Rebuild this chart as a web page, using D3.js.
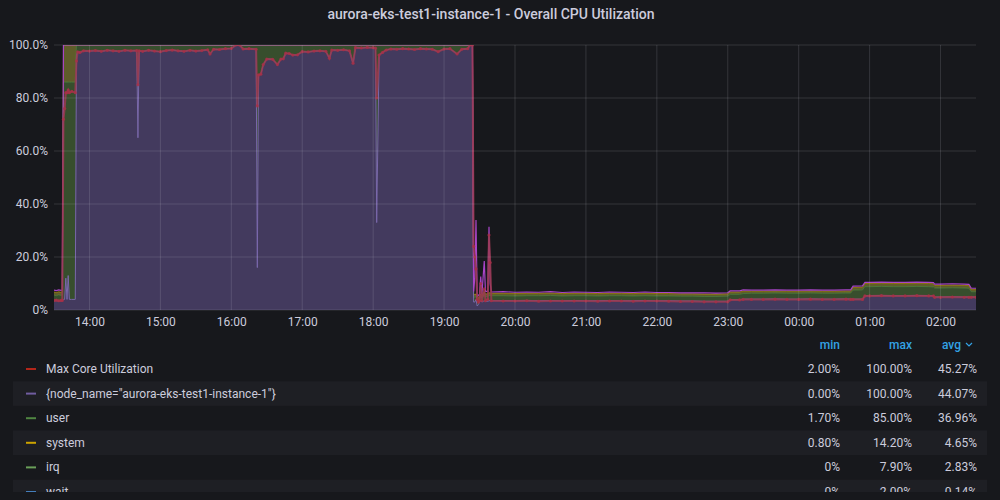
<!DOCTYPE html>
<html><head><meta charset="utf-8">
<script src="https://cdn.jsdelivr.net/npm/d3@7"></script>
<style>
html,body{margin:0;padding:0;background:#17181c;overflow:hidden;}
svg{display:block;font-family:Roboto,"Noto Sans",sans-serif;}
</style></head><body>
<svg id="c" width="1000" height="500"></svg>
<script>
// ---- data ----
const times = [
 "13:30","13:32","13:34","13:36","13:37","13:38","13:39","13:40","13:41","13:42","13:43","13:45","13:48","13:49",
 "13:50","13:52","13:55","14:00","14:05","14:10","14:15","14:20","14:25","14:30","14:35","14:40","14:41","14:42",
 "14:45","14:50","14:55","15:00","15:05","15:10","15:15","15:20","15:25","15:30","15:35","15:40","15:42","15:45",
 "15:50","15:55","16:00","16:04","16:07","16:10","16:15","16:21","16:22","16:23","16:25","16:27","16:30","16:35",
 "16:39","16:42","16:44","16:46","16:49","16:52","16:56","17:00","17:05","17:10","17:15","17:20","17:23","17:25",
 "17:30","17:35","17:40","17:43","17:45","17:50","17:55","18:00","18:02","18:03","18:05","18:08","18:11","18:15",
 "18:20","18:25","18:30","18:35","18:40","18:45","18:50","18:55","19:00","19:05","19:11","19:15","19:20","19:22",
 "19:24","19:25","19:26","19:27","19:28","19:29","19:30","19:31","19:32","19:34","19:35","19:37","19:38","19:39",
 "19:40","19:50","20:00","20:10","20:20","20:30","20:40","20:50","21:00","21:10","21:20","21:30","21:40","21:50",
 "22:00","22:10","22:20","22:30","22:40","22:50","23:00","23:02","23:10","23:13","23:20","23:30","23:40","23:50",
 "00:00","00:10","00:20","00:30","00:40","00:44","00:46","00:54","00:56","01:00","01:10","01:20","01:30","01:40",
 "01:50","01:54","01:55","02:00","02:10","02:20","02:24","02:26","02:30"
];
// {node_name=...} (purple area)
const nodeName = [
 3.5,3.6,3.4,3.5,3.6,4.0,4.0,12,4.0,13,4.0,4.0,4.0,96,
 97.4,97.2,97.8,97.7,97.9,97.6,98.0,97.8,97.6,98.0,97.8,97.9,65,97.8,
 97.6,98.0,97.7,97.5,97.9,98.1,97.8,97.6,98.0,97.7,97.9,98.2,96.6,98.4,
 98.3,98.6,98.7,100,100,98.5,98.6,98.4,16,88.7,89.0,92.6,94.7,94.6,
 92.6,94.7,94.8,96.9,96.8,96.2,96.3,97.5,97.4,97.7,97.8,97.6,95.0,98.1,
 98.0,98.2,97.8,93.1,99.0,98.9,99.1,99.0,98.8,33,96.2,97.2,98.1,98.5,
 98.4,98.6,98.5,98.3,98.6,98.5,98.4,97.5,98.5,98.6,96.6,98.4,98.6,100,
 100,3,3,4,1.5,2,3,3.5,3,3.5,3.2,3.3,3.5,3.5,
 3.5,3.6,3.5,3.6,3.5,3.6,3.5,3.6,3.5,3.5,3.6,3.5,3.5,3.6,
 3.5,3.5,3.4,3.4,3.3,3.3,3.3,3.9,3.9,4.1,4.1,4.1,4.2,4.1,
 4.1,4.2,4.1,4.1,4.2,4.1,4.1,4.1,5.4,5.4,5.5,5.4,5.4,5.5,
 5.4,5.4,4.9,4.9,5.0,4.9,4.9,4.9,4.9
];
// Max Core Utilization (red line)
const maxCore = [
 3.6,3.7,3.5,3.6,3.6,72,76,82,82,83,82,82.5,82,94,
 97.4,97.2,97.8,97.7,97.9,97.6,98.0,97.8,97.6,98.0,97.8,97.9,85,97.8,
 97.6,98.0,97.7,97.5,97.9,98.1,97.8,97.6,98.0,97.7,97.9,98.2,96.6,98.4,
 98.3,98.6,98.7,100,100,98.5,98.6,98.4,77,88.7,89.0,92.6,94.7,94.6,
 92.6,94.7,94.8,96.9,96.8,96.2,96.3,97.5,97.4,97.7,97.8,97.6,95.0,98.1,
 98.0,98.2,97.8,93.1,99.0,98.9,99.1,99.0,98.8,80,96.2,97.2,98.1,98.5,
 98.4,98.6,98.5,98.3,98.6,98.5,98.4,97.5,98.5,98.6,96.6,98.4,98.6,100,
 100,24,20,15.5,4,3,3.5,10,3.5,8,3.5,4,28.3,17.9,
 3.5,3.4,3.4,3.5,3.3,3.4,3.4,3.4,3.4,3.3,3.4,3.4,3.3,3.4,
 3.4,3.3,3.2,3.2,3.1,3.1,3.1,3.8,3.8,4.0,4.0,4.0,4.1,4.0,
 4.0,4.1,4.0,4.0,4.1,4.0,4.0,4.0,5.3,5.3,5.4,5.3,5.3,5.4,
 5.3,5.3,4.8,4.8,4.9,4.8,4.8,4.8,4.8
];
// user (green band top)
const userTop = [
 5.6,5.4,5.7,5.5,5.6,86,86,86,86,86,86,86,86,100,
 100,100,100,100,100,100,100,100,100,100,100,100,100,100,
 100,100,100,100,100,100,100,100,100,100,100,100,100,100,
 100,100,100,100,100,100,100,100,100,100,100,100,100,100,
 100,100,100,100,100,100,100,100,100,100,100,100,100,100,
 100,100,100,100,100,100,100,100,100,100,100,100,100,100,
 100,100,100,100,100,100,100,100,100,100,100,100,100,100,
 100,4.5,5,5,3,3.5,4.5,5,4.5,5.5,5,5.2,5.5,5.5,
 5.4,5.4,5.3,5.4,5.4,5.5,5.3,5.4,5.4,5.3,5.4,5.4,5.3,5.4,
 5.3,5.3,5.2,5.2,5.1,5.1,5.2,5.9,5.9,6.2,6.3,6.3,6.4,6.3,
 6.3,6.4,6.3,6.3,6.4,6.4,7.5,7.6,8.8,8.8,8.9,8.8,8.8,8.9,
 8.8,8.7,8.3,8.3,8.4,8.3,8.2,6.9,6.9
];
// system (olive band top)
const systemTop = [
 6.8,6.6,6.9,6.7,6.8,100,100,100,100,100,100,100,100,100,
 100,100,100,100,100,100,100,100,100,100,100,100,100,100,
 100,100,100,100,100,100,100,100,100,100,100,100,100,100,
 100,100,100,100,100,100,100,100,100,100,100,100,100,100,
 100,100,100,100,100,100,100,100,100,100,100,100,100,100,
 100,100,100,100,100,100,100,100,100,100,100,100,100,100,
 100,100,100,100,100,100,100,100,100,100,100,100,100,100,
 100,5.5,6,6,4,4.5,5.5,6,5.5,7,6,6.2,6.5,6.5,
 6.3,6.3,6.2,6.3,6.3,6.4,6.2,6.3,6.3,6.2,6.3,6.3,6.2,6.3,
 6.2,6.2,6.1,6.1,6.0,6.0,6.1,6.8,6.8,7.1,7.1,7.1,7.2,7.1,
 7.1,7.2,7.1,7.1,7.2,7.2,8.5,8.6,10.0,10.0,10.1,10.0,10.0,10.1,
 10.0,9.9,9.3,9.3,9.4,9.3,9.2,7.7,7.7
];
// stacked total (magenta top line)
const stackTotal = [
 7.5,7.3,7.6,7.4,7.5,100,100,100,100,100,100,100,100,100,
 100,100,100,100,100,100,100,100,100,100,100,100,100,100,
 100,100,100,100,100,100,100,100,100,100,100,100,100,100,
 100,100,100,100,100,100,100,100,100,100,100,100,100,100,
 100,100,100,100,100,100,100,100,100,100,100,100,100,100,
 100,100,100,100,100,100,100,100,100,100,100,100,100,100,
 100,100,100,100,100,100,100,100,100,100,100,100,100,100,
 100,7,12,34,5,5.5,6,12.6,6,18.5,7,7,31.4,10,
 6.8,6.9,6.7,6.8,6.7,6.9,6.6,6.8,6.7,6.6,6.8,6.7,6.6,6.8,
 6.6,6.6,6.5,6.5,6.5,6.4,6.5,7.2,7.2,7.6,7.5,7.5,7.6,7.5,
 7.5,7.6,7.5,7.5,7.6,7.6,9.0,9.1,10.4,10.4,10.5,10.4,10.4,10.5,
 10.4,10.3,9.8,9.8,9.9,9.8,9.7,8.2,8.2
];
const yTicks = [0, 20, 40, 60, 80, 100];
const legendNames = ["Max Core Utilization", "{node_name=\"aurora-eks-test1-instance-1\"}", "user", "system", "irq", "wait"];
const legendMin = ["2.00%", "0.00%", "1.70%", "0.80%", "0%", "0%"];
const legendMax = ["100.00%", "100.00%", "85.00%", "14.20%", "7.90%", "2.00%"];
const legendAvg = ["45.27%", "44.07%", "36.96%", "4.65%", "2.83%", "0.14%"];
const legendHeaders = ["min", "max", "avg"];
const titleText = "aurora-eks-test1-instance-1 - Overall CPU Utilization";

// ---- styles ----
const legendColors = ["#b3261a", "#705da0", "#508642", "#cca300", "#6a9f59", "#447ebc"];
const TEXT = "#ccccdc";

// ---- build ----
const base = new Date(2021, 0, 1);
function parseT(s) {
  const [h, m] = s.split(":").map(Number);
  const d = new Date(base);
  d.setHours(h < 12 ? h + 24 : h, m, 0, 0);
  return d;
}
const data = times.map((t, i) => ({
  date: parseT(t), n: nodeName[i], r: maxCore[i], u: userTop[i], s: systemTop[i], m: stackTotal[i]
}));

const svg = d3.select("#c");
const L = 54, R = 976, T = 45, B = 310;
const x = d3.scaleTime().domain([parseT("13:30"), parseT("02:30")]).range([L, R]);
const y = d3.scaleLinear().domain([0, 100]).range([B, T]);

svg.append("text").attr("x", 491).attr("y", 14).attr("text-anchor", "middle")
  .attr("dominant-baseline", "central").attr("fill", TEXT)
  .style("font-size", "14px").style("font-weight", 500).text(titleText);

svg.append("defs").append("clipPath").attr("id", "clip")
  .append("rect").attr("x", L).attr("y", T).attr("width", R - L).attr("height", B - T);

const g = svg.append("g").attr("clip-path", "url(#clip)");

const nodeArea = d3.area().x(d => x(d.date)).y0(y(0)).y1(d => y(d.n));
const userArea = d3.area().x(d => x(d.date)).y0(d => y(d.n)).y1(d => y(d.u));
const sysArea = d3.area().x(d => x(d.date)).y0(d => y(d.u)).y1(d => y(d.s));

g.append("path").datum(data).attr("d", nodeArea).attr("fill", "#433a5e");
g.append("path").datum(data).attr("d", userArea).attr("fill", "#374e2d");
g.append("path").datum(data).attr("d", sysArea).attr("fill", "#5f5c2a");

// grid
const grid = svg.append("g");
grid.selectAll("line.h").data(yTicks).join("line")
  .attr("x1", L).attr("x2", R).attr("y1", d => y(d)).attr("y2", d => y(d))
  .attr("stroke", "rgba(204,204,220,0.16)").attr("stroke-width", 1);
const xt = x.ticks(d3.timeHour.every(1));
grid.selectAll("line.v").data(xt).join("line")
  .attr("x1", d => x(d)).attr("x2", d => x(d)).attr("y1", T).attr("y2", B)
  .attr("stroke", "rgba(204,204,220,0.16)").attr("stroke-width", 1);

const line = key => d3.line().x(d => x(d.date)).y(d => y(d[key]));
g.append("path").datum(data).attr("d", line("u")).attr("fill", "none").attr("stroke", "#508642").attr("stroke-opacity", 0.7).attr("stroke-width", 1);
g.append("path").datum(data).attr("d", line("s")).attr("fill", "none").attr("stroke", "#cca300").attr("stroke-opacity", 0.55).attr("stroke-width", 1);
g.append("path").datum(data).attr("d", line("n")).attr("fill", "none").attr("stroke", "#7a68ac").attr("stroke-width", 1);
g.append("path").datum(data).attr("d", line("m")).attr("fill", "none").attr("stroke", "#a845c8").attr("stroke-width", 1.2);
g.append("path").datum(data).attr("d", line("r")).attr("fill", "none").attr("stroke", "#9a3a50").attr("stroke-opacity", 0.85).attr("stroke-width", 2);
g.selectAll("circle.r").data(data).join("circle")
  .attr("cx", d => x(d.date)).attr("cy", d => y(d.r)).attr("r", 1.6)
  .attr("fill", "#a83046").attr("fill-opacity", 0.8);

// axes
const yAxis = d3.axisLeft(y).tickValues(yTicks).tickSize(0).tickPadding(0)
  .tickFormat(d => d === 0 ? "0%" : d.toFixed(1) + "%");
const ya = svg.append("g").attr("transform", `translate(48,0)`).call(yAxis);
ya.select(".domain").remove();
ya.selectAll("text").attr("fill", TEXT).style("font-size", "12px").style("font-family", "Roboto,sans-serif");

const xAxis = d3.axisBottom(x).ticks(d3.timeHour.every(1)).tickFormat(d3.timeFormat("%H:%M")).tickSize(0).tickPadding(0);
const xa = svg.append("g").attr("transform", `translate(0,${B + 7})`).call(xAxis);
xa.select(".domain").remove();
xa.selectAll("text").attr("fill", TEXT).style("font-size", "12px").style("font-family", "Roboto,sans-serif");

// legend
const lg = svg.append("g");
svg.select("defs").append("clipPath").attr("id", "lclip")
  .append("rect").attr("x", 0).attr("y", 332).attr("width", 1000).attr("height", 160);
const rows = lg.append("g").attr("clip-path", "url(#lclip)");
const rowY = i => 369 + i * 24.6;
const hx = [840, 912, 961];
legendHeaders.forEach((h, j) => {
  lg.append("text").attr("x", hx[j]).attr("y", 345).attr("text-anchor", "end")
    .attr("dominant-baseline", "central").attr("fill", "#33a2e5")
    .style("font-size", "12px").style("font-weight", 500).text(h);
});
lg.append("path").attr("d", "M966,343 l3,3 l3,-3").attr("fill", "none").attr("stroke", "#33a2e5").attr("stroke-width", 1.2);

legendNames.forEach((name, i) => {
  const cy = rowY(i);
  if (i % 2 === 1) rows.append("rect").attr("x", 13).attr("y", cy - 12.3).attr("width", 974).attr("height", 24.6).attr("fill", "#1e1f24");
  rows.append("line").attr("x1", 26).attr("x2", 36).attr("y1", cy).attr("y2", cy).attr("stroke", legendColors[i]).attr("stroke-width", 2);
  rows.append("text").attr("x", 46).attr("y", cy).attr("dominant-baseline", "central").attr("fill", TEXT).style("font-size", "12px").text(name);
  [legendMin[i], legendMax[i], legendAvg[i]].forEach((v, j) => {
    rows.append("text").attr("x", [840, 912, 977][j]).attr("y", cy).attr("text-anchor", "end")
      .attr("dominant-baseline", "central").attr("fill", TEXT).style("font-size", "12px").text(v);
  });
});
</script>
</body></html>
